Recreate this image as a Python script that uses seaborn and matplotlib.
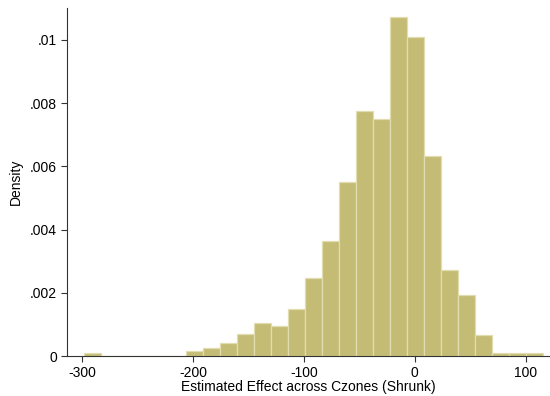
import numpy as np
import pandas as pd
import seaborn as sns
import matplotlib.pyplot as plt

# histogram: 27 bins of equal width
bin_start = -298.0
bin_width = 15.32
density = [0.00009, 0, 0, 0, 0, 0,
           0.00016, 0.00024, 0.00042, 0.00069, 0.00104, 0.00095,
           0.00149, 0.00247, 0.00363, 0.00551, 0.00774, 0.00749,
           0.01071, 0.01008, 0.00632, 0.00273, 0.00192, 0.00068,
           0.00009, 0.00009, 0.00009]

y_ticks = [0, 0.002, 0.004, 0.006, 0.008, 0.01]
y_tick_labels = ["0", ".002", ".004", ".006", ".008", ".01"]
x_ticks = [-300, -200, -100, 0, 100]

n_bins = len(density)
edges = bin_start + bin_width * np.arange(n_bins + 1)
df = pd.DataFrame({"effect": (edges[:-1] + edges[1:]) / 2, "density": density})

sns.set_style("white")
plt.rcParams["font.family"] = ["Liberation Sans", "DejaVu Sans"]

fig = plt.figure(figsize=(5.5, 3.96), dpi=100)
ax = fig.add_axes([0.1213, 0.101, 0.8787, 0.878])

sns.histplot(data=df, x="effect", weights="density", bins=n_bins,
             binrange=(edges[0], edges[-1]),
             color="#c4bc75", edgecolor="#e2ddb0", linewidth=0.9, alpha=1, ax=ax)

ax.set_xlim(-313.8, 121.9)
ax.set_ylim(0, 0.011)
ax.set_xticks(x_ticks)
ax.set_xticklabels([str(t) for t in x_ticks])
ax.set_yticks(y_ticks)
ax.set_yticklabels(y_tick_labels)
ax.tick_params(axis="both", direction="out", length=4, width=0.8, color="#333333",
               labelsize=10, labelcolor="black", pad=3, bottom=True, left=True)
ax.set_xlabel("Estimated Effect across Czones (Shrunk)", fontsize=10, labelpad=0, color="black")
ax.set_ylabel("Density", fontsize=10, labelpad=5, color="black")

for side in ["top", "right"]:
    ax.spines[side].set_visible(False)
for side in ["left", "bottom"]:
    ax.spines[side].set_color("#333333")
    ax.spines[side].set_linewidth(0.8)

fig.savefig("out.png", dpi=100)
